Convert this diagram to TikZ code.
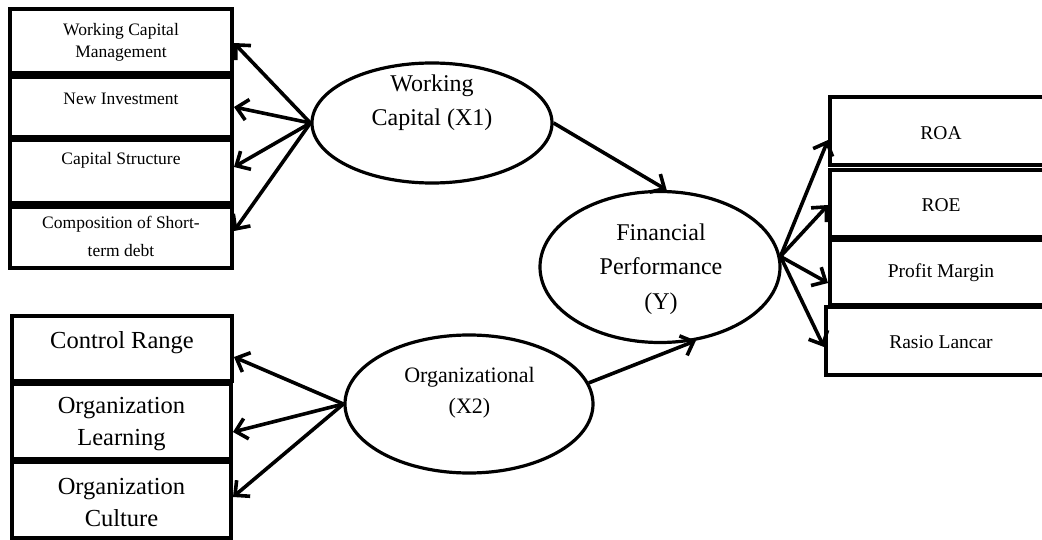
\documentclass[tikz,border=0pt]{standalone}
\usepackage{fontspec}
\setmainfont{Liberation Serif}
\usetikzlibrary{shapes.geometric,arrows.meta}
\begin{document}
\begin{tikzpicture}[x=1pt,y=-1pt,
  boxnode/.style={draw,rectangle,line width=4pt,inner sep=0pt},
  latent/.style={draw,ellipse,line width=3.2pt,inner sep=0pt},
  arr/.style={line width=3.6pt,-{Straight Barb[length=11pt,width=21pt]}},
  smalltxt/.style={align=center,font=\fontsize{17.5}{22}\selectfont},
  righttxt/.style={align=center,font=\fontsize{19.5}{24}\selectfont},
  bigtxt/.style={align=center,font=\fontsize{24.5}{32}\selectfont},
  elltxt/.style={align=center,font=\fontsize{24}{34.5}\selectfont},
  orgtxt/.style={align=center,font=\fontsize{22}{31}\selectfont}]
\useasboundingbox (0,0) rectangle (1042,540);
% left top boxes
\node[boxnode,minimum width=222pt,minimum height=64pt] (b1) at (121,41) {};
\node[boxnode,minimum width=222pt,minimum height=60pt] (b2) at (121,107) {};
\node[boxnode,minimum width=222pt,minimum height=63pt] (b3) at (121,171.5) {};
\node[boxnode,minimum width=222pt,minimum height=61pt] (b4) at (121,237.5) {};
\node[smalltxt] (t1) at (121,42.5) {Working Capital\\Management};
\node[smalltxt] (t2) at (121,99) {New Investment};
\node[smalltxt] (t3) at (121,160) {Capital Structure};
\node[smalltxt,font=\fontsize{17.5}{28}\selectfont] (t4) at (121,236) {Composition of Short-\\term debt};
% left bottom boxes
\node[boxnode,minimum width=220pt,minimum height=65pt] (cr) at (122,348.5) {};
\node[boxnode,minimum width=219pt,minimum height=75pt] (ol) at (121.5,421.5) {};
\node[boxnode,minimum width=219pt,minimum height=76pt] (oc) at (121.5,500) {};
\node[bigtxt] (t5) at (122,343) {Control Range};
\node[bigtxt] (t6) at (121.5,424) {Organization\\Learning};
\node[bigtxt] (t7) at (121.5,502.5) {Organization\\Culture};
% right boxes
\node[boxnode,minimum width=220pt,minimum height=68pt] (roa) at (940,131) {};
\node[boxnode,minimum width=220pt,minimum height=67pt] (roe) at (940,203.5) {};
\node[boxnode,minimum width=220pt,minimum height=65pt] (pm) at (940,272.5) {};
\node[boxnode,minimum width=224pt,minimum height=68pt] (rl) at (938,341) {};
\node[righttxt] (t8) at (941,133) {ROA};
\node[righttxt] (t9) at (941,205) {ROE};
\node[righttxt] (t10) at (941,273) {Profit Margin};
\node[righttxt] (t11) at (941,342) {Rasio Lancar};
% latent variables
\node[latent,minimum width=240pt,minimum height=120pt] (wc) at (432,123) {};
\node[latent,minimum width=240pt,minimum height=151pt] (fp) at (660,267) {};
\node[latent,minimum width=248pt,minimum height=138pt] (org) at (469,404) {};
\node[elltxt] (t12) at (432,102.5) {Working\\Capital (X1)};
\node[elltxt] (t13) at (661,269) {Financial\\Performance\\(Y)};
\node[orgtxt] (t14) at (469.5,392.5) {Organizational\\(X2)};
% connectors
\draw[arr] (wc.west) -- ([yshift=-2pt]b1.east);
\draw[arr] (wc.west) -- (b2.east);
\draw[arr] (wc.west) -- ([yshift=4.5pt]b3.east);
\draw[arr] (wc.west) -- ([yshift=6.5pt]b4.east);
\draw[arr] (org.west) -- ([yshift=-8.5pt]cr.east);
\draw[arr] (org.west) -- ([yshift=-10.5pt]ol.east);
\draw[arr] (org.west) -- ([yshift=3pt]oc.east);
\draw[arr] (fp.5) -- ([yshift=-9pt]roa.west);
\draw[arr] (fp.5) -- ([yshift=-1.5pt]roe.west);
\draw[arr] (fp.5) -- ([yshift=-10.5pt]pm.west);
\draw[arr] (fp.5) -- ([yshift=-6pt]rl.west);
\draw[arr] (wc.east) -- (fp.85);
\draw[arr] (org.10) -- (fp.-64);
\end{tikzpicture}
\end{document}
